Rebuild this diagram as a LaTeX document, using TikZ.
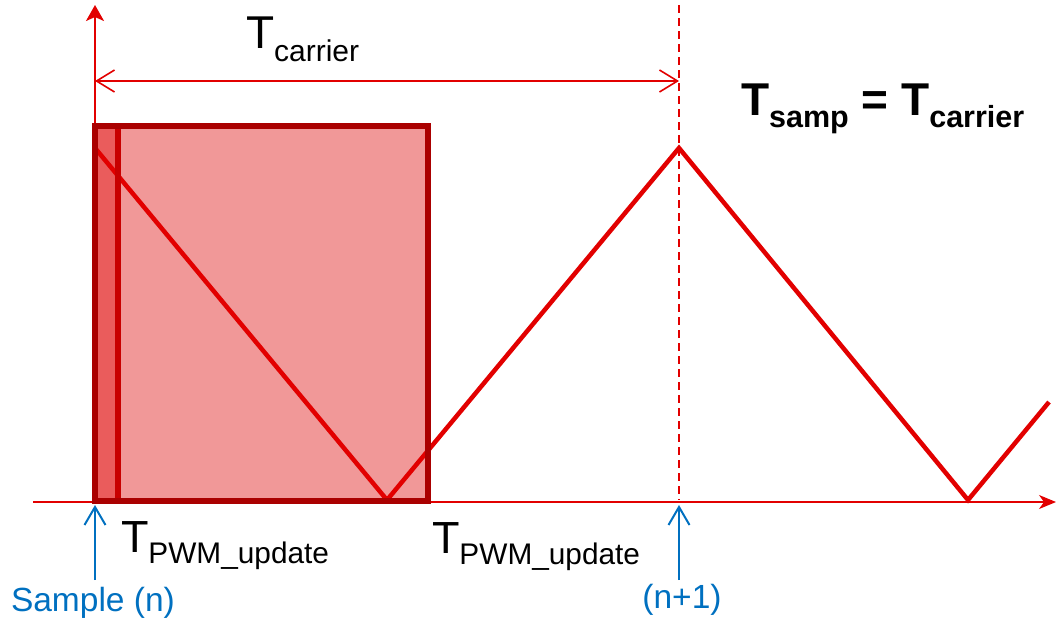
\documentclass[tikz,border=0pt]{standalone}
\usepackage{fontspec}
\setmainfont{Liberation Sans}
\usetikzlibrary{arrows.meta}
\definecolor{wave}{RGB}{226,0,0}
\definecolor{boxline}{RGB}{170,0,0}
\definecolor{boxfill}{RGB}{241,152,152}
\definecolor{narrowfill}{RGB}{234,92,92}
\definecolor{narrowline}{RGB}{200,0,0}
\definecolor{sampblue}{RGB}{0,112,192}
\newcommand{\TwithSub}[4]{{\fontsize{#1}{#1}\selectfont T}\raisebox{-#3pt}{\fontsize{#2}{#2}\selectfont #4}}
\begin{document}
\begin{tikzpicture}[x=1pt,y=-1pt,
  lbl/.style={inner sep=0pt,outer sep=0pt,anchor=base west},
  axisline/.style={draw=wave,line width=1.6pt},
  waveline/.style={draw=wave,line width=4.5pt},
  boxborder/.style={draw=boxline,line width=6pt},
  bluearrow/.style={draw=sampblue,line width=2pt,-{Straight Barb[length=18pt,width=21pt]}},
  dimarrow/.style={draw=wave,line width=1.6pt,{Straight Barb[length=18pt,width=22pt]}-{Straight Barb[length=18pt,width=22pt]}},
  bluetext/.style={inner sep=0pt,outer sep=0pt,text=sampblue,font=\fontsize{33.5}{33.5}\selectfont}
]
\useasboundingbox (0,0) rectangle (1056,622);

% coordinates
\coordinate (origin) at (95,502);
\coordinate (vtop) at (95,5);
\coordinate (hstart) at (33,502);
\coordinate (hend) at (1056,502);
\coordinate (boxTL) at (95,126);
\coordinate (boxBR) at (428,501);
\coordinate (narrowTR) at (118,126);
\coordinate (narrowBR) at (118,501);
\coordinate (w0) at (95,148);
\coordinate (w1) at (387,500);
\coordinate (w2) at (679,148);
\coordinate (w3) at (968,500);
\coordinate (w4) at (1049,402);
\coordinate (dtop) at (679,5);
\coordinate (dbot) at (679,500);
\coordinate (dimL) at (95,81);
\coordinate (dimR) at (679,81);
\coordinate (b1s) at (95,580);
\coordinate (b1e) at (95,505);
\coordinate (b2s) at (679,580);
\coordinate (b2e) at (679,505);

% axes
\draw[axisline,line width=2pt,-{Stealth[length=16pt,width=18pt,inset=4pt]}] (origin) -- (vtop);
\draw[axisline,line width=1.5pt,-{Stealth[length=17pt,width=14pt,inset=5pt]}] (hstart) -- (hend);

% box fills
\fill[boxfill] (boxTL) rectangle (boxBR);
\fill[narrowfill] (boxTL) rectangle (narrowBR);

% triangular carrier
\draw[waveline] (w0) -- (w1) -- (w2) -- (w3) -- (w4);

% box borders
\draw[narrowline,line width=5.5pt] (narrowTR) -- (narrowBR);
\draw[boxborder] (boxTL) rectangle (boxBR);

% dashed sample line
\draw[draw=wave,line width=1.5pt,dash pattern=on 8pt off 5pt] (dtop) -- (dbot);

% carrier period
\draw[dimarrow] (dimL) -- (dimR);

% sample arrows
\draw[bluearrow] (b1s) -- (b1e);
\draw[bluearrow] (b2s) -- (b2e);

% labels
\node[lbl] (tcar) at (246,48) {\TwithSub{46}{30}{13}{carrier}};
\node[lbl] (tpwm1) at (121,552) {\TwithSub{45}{29.8}{11}{PWM\_update}};
\node[lbl] (tpwm2) at (432,553) {\TwithSub{45}{29.8}{11}{PWM\_update}};
\node[lbl,font=\bfseries] (tsamp) at (741,115) {\bfseries\TwithSub{46}{30.5}{12}{samp}{\fontsize{46}{46}\selectfont{} = }\TwithSub{46}{30.5}{12}{carrier}};
\node[bluetext,anchor=base west] (samp) at (11,611) {Sample (n)};
\node[bluetext,anchor=base] (samp1) at (682,608) {(n+1)};
\end{tikzpicture}
\end{document}
